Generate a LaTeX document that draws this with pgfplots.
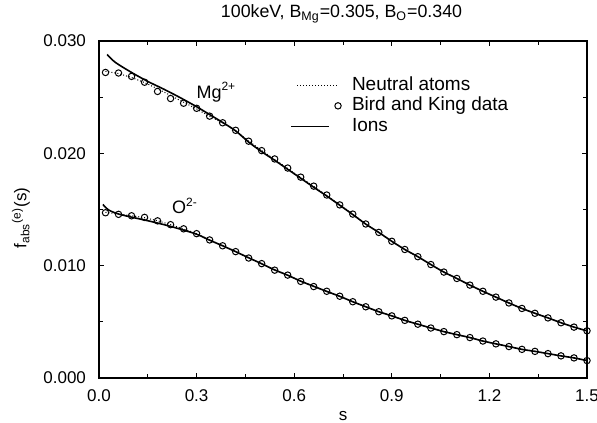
\documentclass[border=0pt]{standalone}
\usepackage{pgfplots}
\pgfplotsset{compat=1.18}
\usepackage{fontspec}
\setmainfont{Liberation Sans}

\pgfplotsset{
  leg dotted/.style={legend image code/.code={\path (-3pt,0pt) (26.4pt,0pt); \draw[##1] (0pt,0pt) -- (21pt,0pt);}},
  leg mark/.style={legend image code/.code={\path (-3pt,0pt) (26.4pt,0pt); \draw[##1] plot coordinates {(20.5pt,0pt)};}},
  leg solid/.style={legend image code/.code={\path (-3pt,0pt) (26.4pt,0pt); \draw[##1] (-3pt,0pt) -- (16pt,0pt);}},
}

\begin{document}
\begin{tikzpicture}[font=\fontsize{8.5}{10}\selectfont]
\begin{axis}[
    name=ax,
    scale only axis, width=244pt, height=168.5pt,
    xmin=0, xmax=1.5, ymin=0, ymax=0.03,
    xtick={0,0.3,0.6,0.9,1.2,1.5}, minor x tick num=1,
    ytick={0,0.01,0.02,0.03}, minor y tick num=1,
    scaled y ticks=false,
    /pgf/number format/assume math mode=true,
    xticklabel style={yshift=-2.5pt, /pgf/number format/.cd, fixed, fixed zerofill, precision=1},
    yticklabel style={xshift=-3pt, /pgf/number format/.cd, fixed, fixed zerofill, precision=3},
    tick align=inside,
    major tick length=2.5pt, minor tick length=2pt,
    axis line style={line width=0.7pt},
    every tick/.style={black, line width=0.5pt},
    title={100keV, B\textsubscript{Mg}=0.305, B\textsubscript{O}=0.340},
    title style={at={(rel axis cs:0.497,1)}, anchor=base, yshift=5.5pt, font=\fontsize{8.9}{10}\selectfont},
    xlabel={s},
    every axis x label/.style={at={(rel axis cs:0.5,0)}, anchor=base, yshift=-21pt},
    ylabel={f\textsubscript{abs}\textsuperscript{(e)}(s)},
    every axis y label/.style={at={(rel axis cs:0,0.475)}, xshift=-39pt, rotate=90, anchor=center},
    legend style={at={(rel axis cs:0.391,0.9)}, anchor=north west, draw=none, fill=none,
        inner sep=0pt, row sep=0pt, font=\fontsize{9.5}{11}\selectfont,
        nodes={inner sep=0.7pt, text height=6.9pt, text depth=1.95pt}},
    legend cell align=left,
]
% neutral atoms (dotted)
\addplot[black, line width=0.5pt, dash pattern=on 0.5pt off 1pt, leg dotted]
coordinates {
(0.02,0.02730) (0.06,0.02710) (0.10,0.02675) (0.14,0.02630) (0.18,0.02575)
(0.22,0.02515) (0.26,0.02455) (0.30,0.02395) (0.34,0.02330) (0.38,0.02270)
(0.42,0.02200) (0.46,0.02110) (0.50,0.02025) (0.54,0.01945) (0.58,0.01865)
(0.62,0.01785) (0.66,0.01705) (0.70,0.01625) (0.74,0.01542) (0.78,0.01459)
(0.82,0.01371) (0.86,0.01296) (0.90,0.01217) (0.94,0.01144) (0.98,0.01080)
(1.02,0.01010) (1.06,0.00943) (1.10,0.00886) (1.14,0.00827) (1.18,0.00772)
(1.22,0.00720) (1.26,0.00668) (1.30,0.00619) (1.34,0.00576) (1.38,0.00535)
(1.42,0.00492) (1.46,0.00453) (1.50,0.00420)
};
\addlegendentry{Neutral atoms}
% Bird and King data
\addplot[black, only marks, mark=o, mark size=1.6pt, mark options={line width=0.5pt}, leg mark]
coordinates {
(0.02,0.02720) (0.06,0.02715) (0.10,0.02685) (0.14,0.02633) (0.18,0.02551)
(0.22,0.02488) (0.26,0.02446) (0.30,0.02401) (0.34,0.02331) (0.38,0.02272)
(0.42,0.02205) (0.46,0.02108) (0.50,0.02024) (0.54,0.01950) (0.58,0.01869)
(0.62,0.01788) (0.66,0.01708) (0.70,0.01629) (0.74,0.01541) (0.78,0.01459)
(0.82,0.01371) (0.86,0.01296) (0.90,0.01217) (0.94,0.01144) (0.98,0.01080)
(1.02,0.01010) (1.06,0.00943) (1.10,0.00886) (1.14,0.00827) (1.18,0.00772)
(1.22,0.00720) (1.26,0.00668) (1.30,0.00619) (1.34,0.00576) (1.38,0.00535)
(1.42,0.00492) (1.46,0.00453) (1.50,0.00420)
};
\addlegendentry{Bird and King data}
% ions (solid)
\addplot[black, line width=0.8pt, smooth, leg solid]
coordinates {
(0.025,0.02880) (0.05,0.02810) (0.10,0.02720) (0.15,0.02640) (0.20,0.02570)
(0.25,0.02495) (0.30,0.02415) (0.34,0.02345) (0.38,0.02275) (0.42,0.02200)
(0.46,0.02100) (0.50,0.02015) (0.54,0.01938) (0.58,0.01858)
(0.62,0.01778) (0.66,0.01698) (0.70,0.01620) (0.74,0.01538) (0.78,0.01455)
(0.82,0.01370) (0.86,0.01296) (0.90,0.01217) (0.94,0.01144) (0.98,0.01080)
(1.02,0.01010) (1.06,0.00943) (1.10,0.00886) (1.14,0.00827) (1.18,0.00772)
(1.22,0.00720) (1.26,0.00668) (1.30,0.00619) (1.34,0.00576) (1.38,0.00535)
(1.42,0.00492) (1.46,0.00453) (1.50,0.00420)
};
\addlegendentry{Ions}
% O: neutral atoms
\addplot[black, line width=0.5pt, dash pattern=on 0.5pt off 1pt, forget plot]
coordinates {
(0.02,0.01475) (0.06,0.01460) (0.10,0.01445) (0.14,0.01427) (0.18,0.01400)
(0.22,0.01365) (0.26,0.01327) (0.30,0.01285) (0.34,0.01229) (0.38,0.01177)
(0.42,0.01125) (0.46,0.01070) (0.50,0.01017) (0.54,0.00962) (0.58,0.00915)
(0.62,0.00862) (0.66,0.00816) (0.70,0.00771) (0.74,0.00727) (0.78,0.00679)
(0.82,0.00634) (0.86,0.00590) (0.90,0.00553) (0.94,0.00513) (0.98,0.00479)
(1.02,0.00445) (1.06,0.00413) (1.10,0.00386) (1.14,0.00360) (1.18,0.00329)
(1.22,0.00304) (1.26,0.00280) (1.30,0.00255) (1.34,0.00237) (1.38,0.00217)
(1.42,0.00197) (1.46,0.00179) (1.50,0.00155)
};
% O: Bird and King data
\addplot[black, only marks, mark=o, mark size=1.6pt, mark options={line width=0.5pt}, forget plot]
coordinates {
(0.02,0.01471) (0.06,0.01457) (0.10,0.01444) (0.14,0.01430) (0.18,0.01399)
(0.22,0.01365) (0.26,0.01328) (0.30,0.01285) (0.34,0.01229) (0.38,0.01177)
(0.42,0.01125) (0.46,0.01068) (0.50,0.01018) (0.54,0.00960) (0.58,0.00916)
(0.62,0.00860) (0.66,0.00814) (0.70,0.00772) (0.74,0.00728) (0.78,0.00679)
(0.82,0.00634) (0.86,0.00590) (0.90,0.00553) (0.94,0.00513) (0.98,0.00479)
(1.02,0.00445) (1.06,0.00413) (1.10,0.00386) (1.14,0.00360) (1.18,0.00329)
(1.22,0.00304) (1.26,0.00280) (1.30,0.00255) (1.34,0.00237) (1.38,0.00217)
(1.42,0.00197) (1.46,0.00179) (1.50,0.00155)
};
% O: ions
\addplot[black, line width=0.8pt, smooth, forget plot]
coordinates {
(0.012,0.01545) (0.03,0.01495) (0.06,0.01460) (0.10,0.01432) (0.15,0.01400)
(0.20,0.01365) (0.25,0.01325) (0.30,0.01280) (0.34,0.01227) (0.38,0.01177)
(0.42,0.01125) (0.46,0.01070) (0.50,0.01017) (0.54,0.00962) (0.58,0.00915)
(0.62,0.00862) (0.66,0.00816) (0.70,0.00771) (0.74,0.00727) (0.78,0.00679)
(0.82,0.00634) (0.86,0.00590) (0.90,0.00553) (0.94,0.00513) (0.98,0.00479)
(1.02,0.00445) (1.06,0.00413) (1.10,0.00386) (1.14,0.00360) (1.18,0.00329)
(1.22,0.00304) (1.26,0.00280) (1.30,0.00255) (1.34,0.00237) (1.38,0.00217)
(1.42,0.00197) (1.46,0.00179) (1.50,0.00155)
};
\node[anchor=base west, font=\fontsize{9}{10}\selectfont] at (axis cs:0.278,0.0249) {Mg\textsuperscript{2+}};
\node[anchor=base west, font=\fontsize{9}{10}\selectfont] at (axis cs:0.203,0.0146) {O\textsuperscript{2-}};
\end{axis}
\pgfresetboundingbox
\path[use as bounding box] ([xshift=-49.5pt,yshift=-22pt]ax.south west) rectangle ([xshift=5pt,yshift=20.5pt]ax.north east);
\end{tikzpicture}
\end{document}
